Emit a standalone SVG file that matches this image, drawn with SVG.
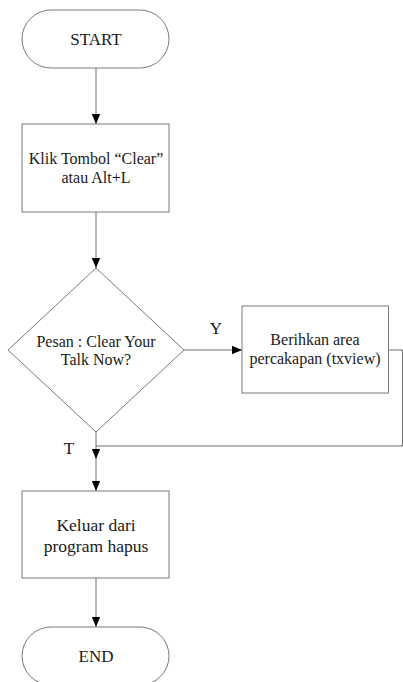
<svg xmlns="http://www.w3.org/2000/svg" width="403" height="682" viewBox="0 0 403 682">
  <style>
    .shape { fill: #ffffff; stroke: #7a7a7a; stroke-width: 1; }
    .edge { fill: none; stroke: #6e6e6e; stroke-width: 1; }
    text { font-family: "Liberation Serif", "Times New Roman", serif; fill: #1a1a1a; text-anchor: middle; }
    .t16 { font-size: 16px; }
    .t17 { font-size: 17px; }
    .t175 { font-size: 17.5px; }
  </style>
  <defs>
    <marker id="arrow" viewBox="0 0 10 10" refX="10" refY="5" markerWidth="10" markerHeight="10" markerUnits="userSpaceOnUse" orient="auto">
      <path d="M0,0.8 L10,5 L0,9.2 Z" fill="#000000"/>
    </marker>
  </defs>

  <rect width="403" height="682" fill="#ffffff"/>

  <!-- connectors -->
  <g id="connectors">
    <path class="edge" d="M96,68 V124" marker-end="url(#arrow)"/>
    <path class="edge" d="M96,212 V268" marker-end="url(#arrow)"/>
    <path class="edge" d="M184,350 H242" marker-end="url(#arrow)"/>
    <path class="edge" d="M388.5,350 H402.5 V446 H96"/>
    <path class="edge" d="M96,432 V459" marker-end="url(#arrow)"/>
    <path class="edge" d="M96,459 V491" marker-end="url(#arrow)"/>
    <path class="edge" d="M96,578 V627" marker-end="url(#arrow)"/>
    <text class="t17" x="216" y="334">Y</text>
    <text class="t17" x="69" y="454">T</text>
  </g>

  <g id="start">
    <rect class="shape" x="22" y="10" width="147" height="58" rx="29" ry="29"/>
    <text class="t17" x="96" y="45">START</text>
  </g>

  <g id="clear-button">
    <rect class="shape" x="22" y="124" width="147" height="88"/>
    <text class="t16" x="96" y="164">Klik Tombol “Clear”</text>
    <text class="t16" x="96" y="183">atau Alt+L</text>
  </g>

  <g id="confirm">
    <polygon class="shape" points="96,268 184,350 96,432 8,350"/>
    <text class="t16" x="96" y="346.5">Pesan : Clear Your</text>
    <text class="t16" x="96" y="365">Talk Now?</text>
  </g>

  <g id="clear-area">
    <rect class="shape" x="242" y="306" width="146.5" height="87"/>
    <text class="t16" x="315" y="345">Berihkan area</text>
    <text class="t16" x="315" y="363.5">percakapan (txview)</text>
  </g>

  <g id="exit">
    <rect class="shape" x="22" y="491" width="147" height="87"/>
    <text class="t175" x="96" y="530.5">Keluar dari</text>
    <text class="t175" x="96" y="551.5">program hapus</text>
  </g>

  <g id="end">
    <rect class="shape" x="22" y="627" width="147" height="58" rx="29" ry="29"/>
    <text class="t17" x="96" y="662">END</text>
  </g>
</svg>
